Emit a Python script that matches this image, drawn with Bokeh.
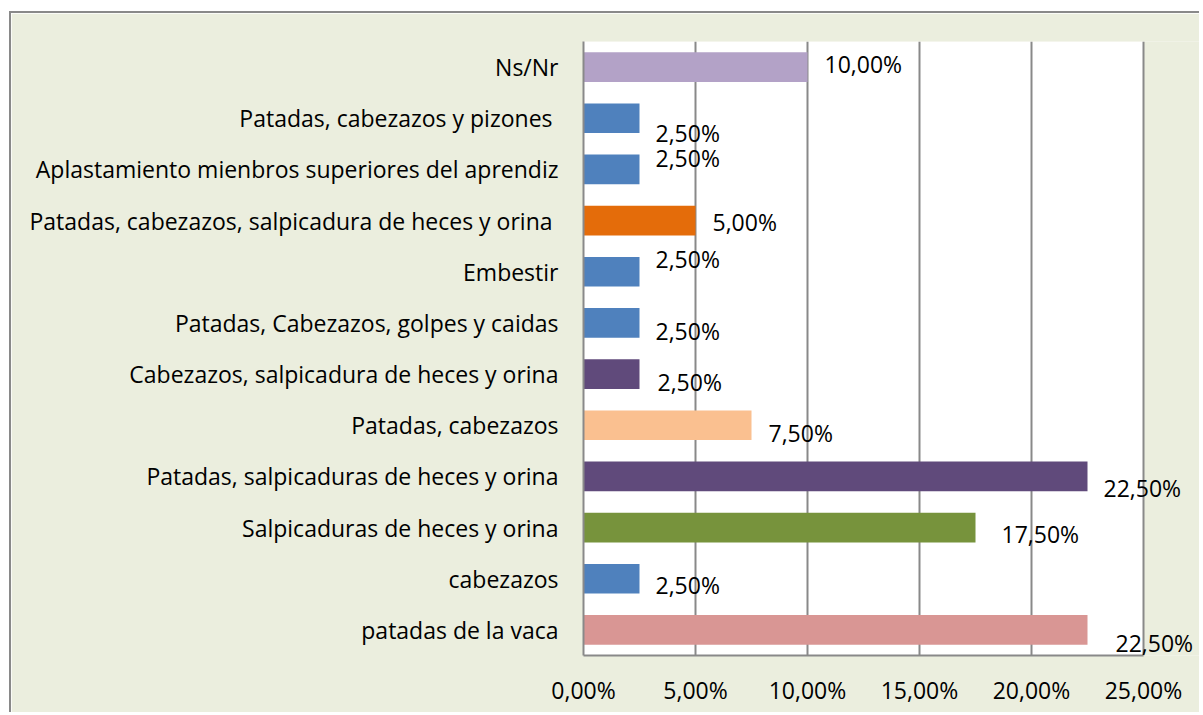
from bokeh.plotting import figure
from bokeh.models import (ColumnDataSource, Range1d, FactorRange, FixedTicker,
                          CustomJSTickFormatter, LabelSet, BoxAnnotation)
from bokeh.core.properties import value
from bokeh.embed import file_html
from bokeh.resources import INLINE

# Categories listed top to bottom as in the chart
categories = [
    "Ns/Nr",
    "Patadas, cabezazos y pizones ",
    "Aplastamiento mienbros superiores del aprendiz",
    "Patadas, cabezazos, salpicadura de heces y orina ",
    "Embestir",
    "Patadas, Cabezazos, golpes y caidas",
    "Cabezazos, salpicadura de heces y orina",
    "Patadas, cabezazos",
    "Patadas, salpicaduras de heces y orina",
    "Salpicaduras de heces y orina",
    "cabezazos",
    "patadas de la vaca",
]
percentages = [0.10, 0.025, 0.025, 0.05, 0.025, 0.025, 0.025, 0.075, 0.225, 0.175, 0.025, 0.225]
value_labels = ["10,00%", "2,50%", "2,50%", "5,00%", "2,50%", "2,50%", "2,50%",
                "7,50%", "22,50%", "17,50%", "2,50%", "22,50%"]
x_ticks = [0.0, 0.05, 0.10, 0.15, 0.20, 0.25]
axis_max = 0.25

# styling (not data)
bar_colors = ["#B3A2C7", "#4F81BD", "#4F81BD", "#E46C0A", "#4F81BD", "#4F81BD",
              "#604A7B", "#FAC090", "#604A7B", "#77933C", "#4F81BD", "#D99694"]
label_dx = [17, 16, 16, 17, 16, 16, 18, 17, 16, 26, 16, 28]
label_dy = [3, -15, 11, -1, 13, -8, -8, -8, -12, -6, -6, -13]

BG = "#EBEEDE"
GRID = "#898989"
FONT = "Open Sans"
FS = "23px"

FIG_W, FIG_H = 1190, 701
BORDER_L, BORDER_T, BORDER_B = 572, 28, 59
PLOT_W = 560  # pixels for 0..axis_max
frame_w = FIG_W - BORDER_L
x_end = axis_max * frame_w / PLOT_W

src = ColumnDataSource(dict(cat=categories, val=percentages, col=bar_colors,
                            lab=value_labels, dx=label_dx, dy=label_dy))

p = figure(width=FIG_W, height=FIG_H, output_backend="svg", toolbar_location=None,
           x_range=Range1d(0, x_end), y_range=FactorRange(factors=categories[::-1]),
           min_border_left=BORDER_L, min_border_right=0, min_border_top=BORDER_T,
           min_border_bottom=BORDER_B)
p.styles = {"margin-left": "9px", "margin-top": "11px",
            "border-left": f"2px solid {GRID}", "border-top": f"2px solid {GRID}"}
p.border_fill_color = BG
p.background_fill_color = BG
p.outline_line_color = None

# white plot area 0..25%
p.add_layout(BoxAnnotation(left=0, right=axis_max, fill_color="white", fill_alpha=1,
                           line_color=None, level="image"))

p.hbar(y="cat", right="val", left=0, height=0.58, color="col", line_color=None, source=src)
labels = LabelSet(x="val", y="cat", text="lab", x_offset="dx", y_offset="dy", source=src,
                  text_font=value(FONT), text_font_size=value(FS), text_baseline="middle",
                  text_align="left", text_color="black")
p.add_layout(labels)

p.ygrid.grid_line_color = None
p.xgrid.grid_line_color = GRID
p.xgrid.grid_line_width = 2
p.xaxis.ticker = FixedTicker(ticks=x_ticks)
p.xgrid.ticker = FixedTicker(ticks=x_ticks)
p.xaxis.bounds = (0, axis_max)
p.xaxis.formatter = CustomJSTickFormatter(code="return (tick*100).toFixed(2).replace('.', ',') + '%';")

for ax in (p.xaxis[0], p.yaxis[0]):
    ax.axis_line_color = GRID
    ax.axis_line_width = 2
    ax.major_tick_line_color = None
    ax.minor_tick_line_color = None
    ax.major_label_text_font = FONT
    ax.major_label_text_font_size = FS
    ax.major_label_text_color = "black"
p.xaxis.major_label_standoff = 12
p.yaxis.major_label_standoff = 19

open("out.html", "w").write(file_html(p, INLINE))
